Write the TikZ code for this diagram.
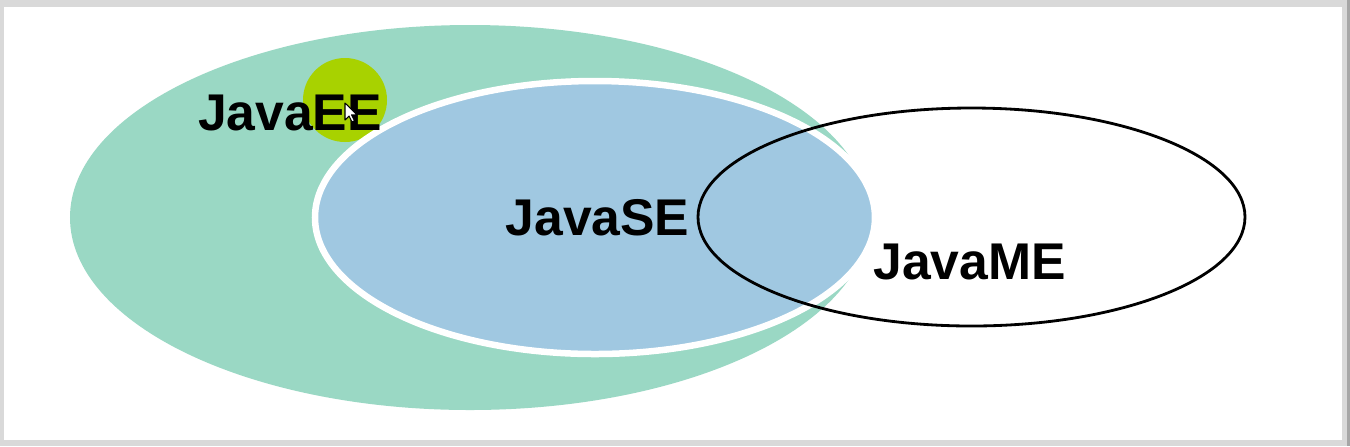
\documentclass[tikz,border=0pt]{standalone}
\usepackage{fontspec}
\setmainfont{Liberation Sans}
\usetikzlibrary{shapes.geometric}
\definecolor{eegreen}{RGB}{154,216,196}
\definecolor{seblue}{RGB}{160,200,225}
\definecolor{spot}{RGB}{168,210,0}
\definecolor{frame}{RGB}{217,217,217}
\tikzset{
  label/.style={inner sep=0pt, font=\bfseries\fontsize{14.7pt}{17pt}\selectfont},
  blob/.style={ellipse, inner sep=0pt, outer sep=0pt}
}
\begin{document}
\begin{tikzpicture}
% frame
\fill[frame] (0,0) rectangle (13.5,4.46);
\fill[gray!70] (13.47,0) rectangle (13.5,4.46);
\fill[white] (0.04,0.06) rectangle (13.42,4.39);
\useasboundingbox (0,0) rectangle (13.5,4.46);
% sets
\node[blob, fill=eegreen, minimum width=8cm, minimum height=3.85cm] (ee) at (4.70,2.285) {};
\node[circle, fill=spot, inner sep=0pt, minimum size=0.84cm] (spot) at (3.45,3.46) {};
\node[blob, fill=seblue, draw=white, line width=0.065cm, minimum width=5.6cm, minimum height=2.73cm] (se) at (5.95,2.285) {};
\node[blob, draw=black, line width=0.8pt, minimum width=5.47cm, minimum height=2.18cm] (me) at (9.715,2.29) {};
% labels
\node[label] (eetext) at (2.90,3.33) {JavaEE};
\node[label] (setext) at (5.975,2.28) {JavaSE};
\node[label] (metext) at (9.695,1.84) {JavaME};
% cursor
\draw[fill=white, line width=0.3pt, line join=round] (3.45,3.43) -- ++(0,-0.17) -- ++(0.04,0.04) -- ++(0.03,-0.06) -- ++(0.025,0.012) -- ++(-0.03,0.06) -- ++(0.055,0) -- cycle;
\end{tikzpicture}
\end{document}
